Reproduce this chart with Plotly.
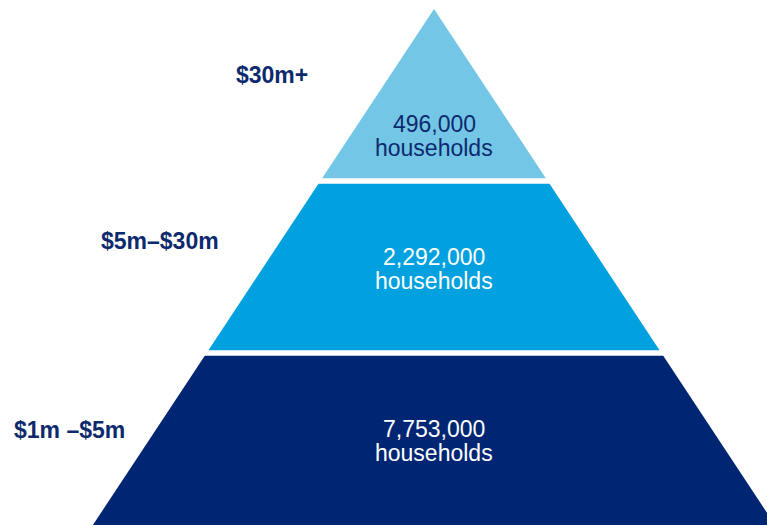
import plotly.graph_objs as go

# wealth tiers, bottom to top
tiers = ['$1m –$5m', '$5m–$30m', '$30m+']
households = [7753000, 2292000, 496000]
tier_colors = ['#002673', '#00A1DE', '#73C6E6']
text_colors = ['white', 'white', '#0D2A6E']

label_color = '#0D2A6E'
px_per_unit = 113.7   # half-width growth of the pyramid per tier
gap = 0.016           # half of the white band between tiers
n = len(tiers)

fig = go.Figure()

for i, (tier, val) in enumerate(zip(tiers, households)):
    y0 = i + (gap if i > 0 else -0.2)
    y1 = i + 1 - (gap if i < n - 1 else 0)
    w0 = (n - y0) * px_per_unit
    w1 = (n - y1) * px_per_unit
    fig.add_trace(go.Scatter(
        x=[-w0, w0, w1, -w1, -w0],
        y=[y0, y0, y1, y1, y0],
        fill='toself',
        fillcolor=tier_colors[i],
        mode='lines',
        line=dict(width=0, color=tier_colors[i]),
        hoverinfo='skip',
        showlegend=False,
    ))

    # text sits lower in the top triangle
    ty = i + 0.56 - (0.23 if i == n - 1 else 0)
    fig.add_annotation(x=0, y=ty, text=f'{val:,}', showarrow=False,
                       font=dict(size=23, color=text_colors[i]))
    fig.add_annotation(x=0, y=ty - 0.14, text='households', showarrow=False,
                       font=dict(size=23, color=text_colors[i]))

# tier labels on the left
label_x = [-364.5, -274.5, -162]
label_y = [0.552, 1.651, 2.616]
for tier, lx, ly in zip(tiers, label_x, label_y):
    fig.add_annotation(x=lx, y=ly, text=f'<b>{tier}</b>', showarrow=False,
                       font=dict(size=23, color=label_color))

fig.update_layout(
    width=767, height=525,
    margin=dict(l=0, r=0, t=0, b=0),
    paper_bgcolor='white', plot_bgcolor='white',
    font=dict(family='Liberation Sans, Arial, sans-serif'),
    xaxis=dict(range=[-434, 333], visible=False, fixedrange=True),
    yaxis=dict(range=[0, 525 / 172], visible=False, fixedrange=True),
)

fig.write_html('out.html', config={'displayModeBar': False},
               post_script="document.body.style.margin='0';")
